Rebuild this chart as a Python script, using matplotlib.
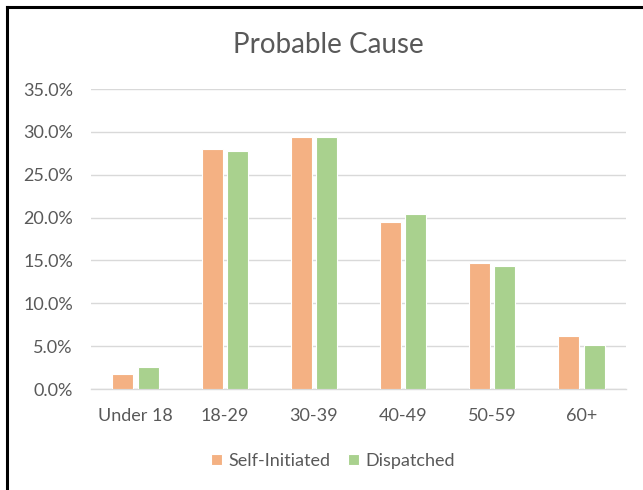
import matplotlib
matplotlib.use('Agg')
import matplotlib.pyplot as plt
import numpy as np
from matplotlib.lines import Line2D

plt.rcParams['font.family'] = ['Lato', 'DejaVu Sans']

categories = ['Under 18', '18-29', '30-39', '40-49', '50-59', '60+']
self_initiated = [1.8, 28.0, 29.45, 19.5, 14.75, 6.2]
dispatched = [2.52, 27.8, 29.45, 20.4, 14.4, 5.15]
yticks = [0, 5, 10, 15, 20, 25, 30, 35]

fig = plt.figure(figsize=(6.43, 4.9), dpi=100)
ax = fig.add_axes([91/643, 1-389/490, 535/643, 300/490])

x = np.arange(len(categories))
w = 0.235
off = 0.142
ax.bar(x - off, self_initiated, w, color='#F4B183', edgecolor='white', linewidth=0.8,
       label='Self-Initiated', zorder=3)
ax.bar(x + off, dispatched, w, color='#A9D18E', edgecolor='white', linewidth=0.8,
       label='Dispatched', zorder=3)

ax.set_xlim(-0.5, len(categories) - 0.5)
ax.set_ylim(0, 35)
ax.set_yticks(yticks)
ax.set_yticklabels(['%.1f%%' % v for v in yticks])
ax.set_xticks(x)
ax.set_xticklabels(categories)
ax.yaxis.grid(True, color='#D9D9D9', linewidth=1, zorder=0)
for s in ['top', 'right', 'left']:
    ax.spines[s].set_visible(False)
ax.spines['bottom'].set_color('#D9D9D9')
ax.spines['bottom'].set_linewidth(1)
ax.tick_params(axis='both', length=0, labelsize=13, colors='#595959')
ax.tick_params(axis='y', pad=13)
ax.tick_params(axis='x', pad=14)

fig.text(0.511, 1-45/490, 'Probable Cause', ha='center', va='center',
         fontsize=20, color='#595959')

ax.legend(loc='center', bbox_to_anchor=(0.452, -0.24), ncol=2, frameon=False,
          fontsize=13, labelcolor='#595959', handlelength=0.6, handleheight=0.6,
          columnspacing=1.0, handletextpad=0.35)

# border on top and left
fig.add_artist(Line2D([7/643, 1], [1-7/490, 1-7/490], color='black', linewidth=2.2,
                      transform=fig.transFigure))
fig.add_artist(Line2D([7/643, 7/643], [0, 1-7/490], color='black', linewidth=2.2,
                      transform=fig.transFigure))

plt.savefig('out.png', dpi=100)
